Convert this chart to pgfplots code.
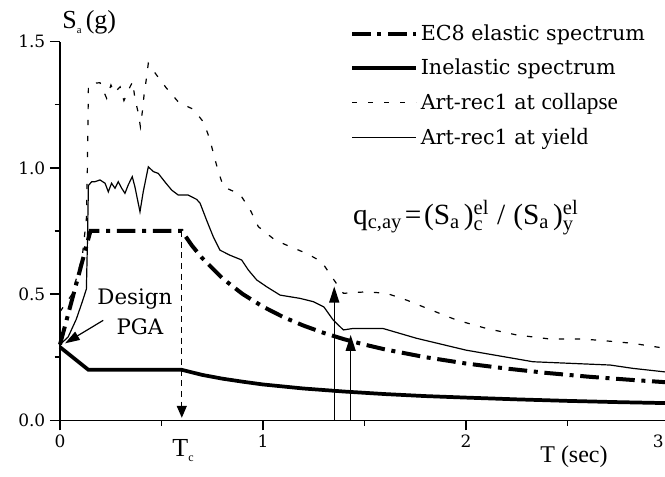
\documentclass[border=0pt]{standalone}
\usepackage{amsmath}
\usepackage{fontspec}
\setmainfont{Liberation Serif}
\newfontfamily\dvs{DejaVu Serif}
\usepackage{pgfplots}
\pgfplotsset{compat=1.18}
\usetikzlibrary{arrows.meta}

\newcommand\tms{\rmfamily\fontsize{17.5}{20}\selectfont}

\begin{document}
\begin{tikzpicture}
\begin{axis}[
  at={(0,0)}, anchor=origin,
  scale only axis, width=456.75pt, height=284.06pt,
  xmin=0, xmax=3, ymin=0, ymax=1.5,
  axis lines=left, axis line style={-, line width=1.2pt},
  clip=false,
  xtick={0,1,2,3}, xticklabels={0,1,2,\llap{3\hspace{4pt}}},
  minor xtick={0.5,1.5,2.5},
  ytick={0,0.5,1,1.5}, yticklabels={0.0,0.5,1.0,1.5},
  minor ytick={0.25,0.75,1.25},
  tick align=outside, major tick length=7.5pt, minor tick length=4pt,
  every tick/.style={black, line width=1.1pt},
  ticklabel style={font=\dvs\fontsize{12.75}{15}\selectfont},
  legend cell align=left,
  legend style={draw=none, fill=none, at={(0.476,1.052)}, anchor=north west,
    row sep=8.5pt, inner sep=0pt, font=\dvs\fontsize{15.5}{17}\selectfont},
  legend image code/.code={\draw[#1] (0pt,0pt) -- (48pt,0pt);},
]
% EC8 elastic spectrum
\addplot[black, line width=3pt, dash pattern=on 14pt off 5pt on 3pt off 5pt] coordinates {
 (0,0.30) (0.15,0.75) (0.60,0.75) (0.65,0.692) (0.70,0.643) (0.80,0.5625) (0.90,0.50)
 (1.0,0.45) (1.1,0.409) (1.2,0.375) (1.3,0.346) (1.4,0.321) (1.5,0.30) (1.6,0.281)
 (1.8,0.25) (2.0,0.225) (2.2,0.205) (2.4,0.1875) (2.6,0.173) (2.8,0.161) (3.0,0.15)};
% inelastic spectrum
\addplot[black, line width=2.8pt] coordinates {
 (0,0.29) (0.14,0.20) (0.60,0.20) (0.70,0.180) (0.80,0.165) (0.90,0.153) (1.0,0.142)
 (1.2,0.126) (1.4,0.114) (1.6,0.104) (1.8,0.096) (2.0,0.090) (2.25,0.083) (2.5,0.077)
 (2.75,0.072) (3.0,0.068)};
% Art-rec1 at collapse
\addplot[black, line width=0.9pt, dash pattern=on 4pt off 8pt] coordinates {
 (0,0.43) (0.06,0.50) (0.11,0.65) (0.13,0.80) (0.135,1.0) (0.14,1.328) (0.164,1.335)
 (0.197,1.337) (0.23,1.275) (0.251,1.328) (0.267,1.297) (0.296,1.321) (0.315,1.266)
 (0.345,1.321) (0.358,1.341) (0.369,1.275) (0.386,1.216) (0.396,1.163) (0.406,1.225)
 (0.414,1.288) (0.425,1.35) (0.435,1.414) (0.476,1.367) (0.525,1.315) (0.586,1.258)
 (0.657,1.232) (0.709,1.179) (0.739,1.11) (0.76,1.044) (0.78,0.985) (0.805,0.925)
 (0.887,0.895) (0.936,0.835) (0.977,0.767) (1.059,0.714) (1.133,0.688) (1.215,0.661)
 (1.289,0.628) (1.346,0.56) (1.396,0.503) (1.51,0.509) (1.608,0.503) (1.708,0.476)
 (1.806,0.444) (1.954,0.397) (2.10,0.364) (2.25,0.338) (2.414,0.322) (2.578,0.322)
 (2.742,0.311) (2.82,0.305) (3.0,0.283)};
% Art-rec1 at yield
\addplot[black, line width=0.9pt] coordinates {
 (0,0.30) (0.04,0.33) (0.08,0.40) (0.11,0.47) (0.13,0.52) (0.135,0.70) (0.14,0.93)
 (0.156,0.945) (0.172,0.945) (0.197,0.952) (0.222,0.939) (0.238,0.905) (0.254,0.939)
 (0.271,0.919) (0.287,0.945) (0.304,0.919) (0.320,0.899) (0.336,0.932) (0.356,0.965)
 (0.369,0.925) (0.394,0.826) (0.41,0.905) (0.435,1.004) (0.46,0.985) (0.484,0.978)
 (0.516,0.945) (0.55,0.912) (0.583,0.892) (0.632,0.892) (0.673,0.875) (0.69,0.86)
 (0.722,0.793) (0.755,0.727) (0.788,0.674) (0.837,0.654) (0.895,0.635) (0.928,0.595)
 (0.969,0.556) (1.018,0.529) (1.084,0.496) (1.182,0.483) (1.248,0.470) (1.30,0.449)
 (1.346,0.397) (1.396,0.358) (1.445,0.364) (1.59,0.364) (1.756,0.325) (2.0,0.278)
 (2.33,0.232) (2.71,0.219) (2.82,0.206) (3.0,0.19)};
\legend{EC8 elastic spectrum, Inelastic spectrum,
  {Art-rec1 at {\tms collapse}}, {Art-rec1 at {\tms yield}}}

% vertical arrows
\addplot[forget plot, black, line width=1pt, dash pattern=on 4.5pt off 3.5pt,
  -{Triangle[length=9pt,width=7.5pt]}] coordinates {(0.6,0.75) (0.6,0.01)};
\addplot[forget plot, black, line width=1pt,
  -{Triangle[length=12pt,width=7.5pt]}] coordinates {(1.351,0) (1.351,0.53)};
\addplot[forget plot, black, line width=1pt,
  -{Triangle[length=12pt,width=7.5pt]}] coordinates {(1.432,0) (1.432,0.338)};

\draw[line width=0.9pt, -{Triangle[length=11pt,width=7pt]}]
  (axis cs:0.213,0.396) -- (axis cs:0.025,0.305);
\node[anchor=base, inner sep=0pt, font=\dvs\fontsize{16}{18}\selectfont]
  at (axis cs:0.369,0.46) {Design};
\node[anchor=base, inner sep=0pt, font=\dvs\fontsize{16}{18}\selectfont]
  at (axis cs:0.394,0.338) {PGA};

\node[anchor=base west, inner sep=0pt, font=\fontsize{19.5}{22}\selectfont]
  at (axis cs:0.01,1.55) {S\raisebox{-0.35ex}{\fontsize{8}{9}\selectfont a}\,(g)};
\node[anchor=base, inner sep=0pt, font=\fontsize{19.5}{22}\selectfont]
  at (axis cs:0.606,-0.145) {T\raisebox{-0.4ex}{\fontsize{9}{10}\selectfont c}};
\node[anchor=base west, inner sep=0pt, font=\fontsize{18}{21}\selectfont]
  at (axis cs:2.365,-0.168) {T (sec)};
\node[anchor=base west, inner sep=0pt, font=\fontsize{22}{26}\selectfont]
  at (axis cs:1.443,0.777)
  {q$_{\text{c,ay}}$\hspace{2pt}=\hspace{2pt}(S$_{\text{a}}$\hspace{3pt})$^{\text{el}}_{\text{c}}$\hspace{6pt}/\hspace{6pt}(S$_{\text{a}}$\hspace{3pt})$^{\text{el}}_{\text{y}}$};
\end{axis}
\pgfresetboundingbox
\path[use as bounding box] (-45pt,-42.5pt) rectangle (453.75pt,315.25pt);
\end{tikzpicture}
\end{document}
